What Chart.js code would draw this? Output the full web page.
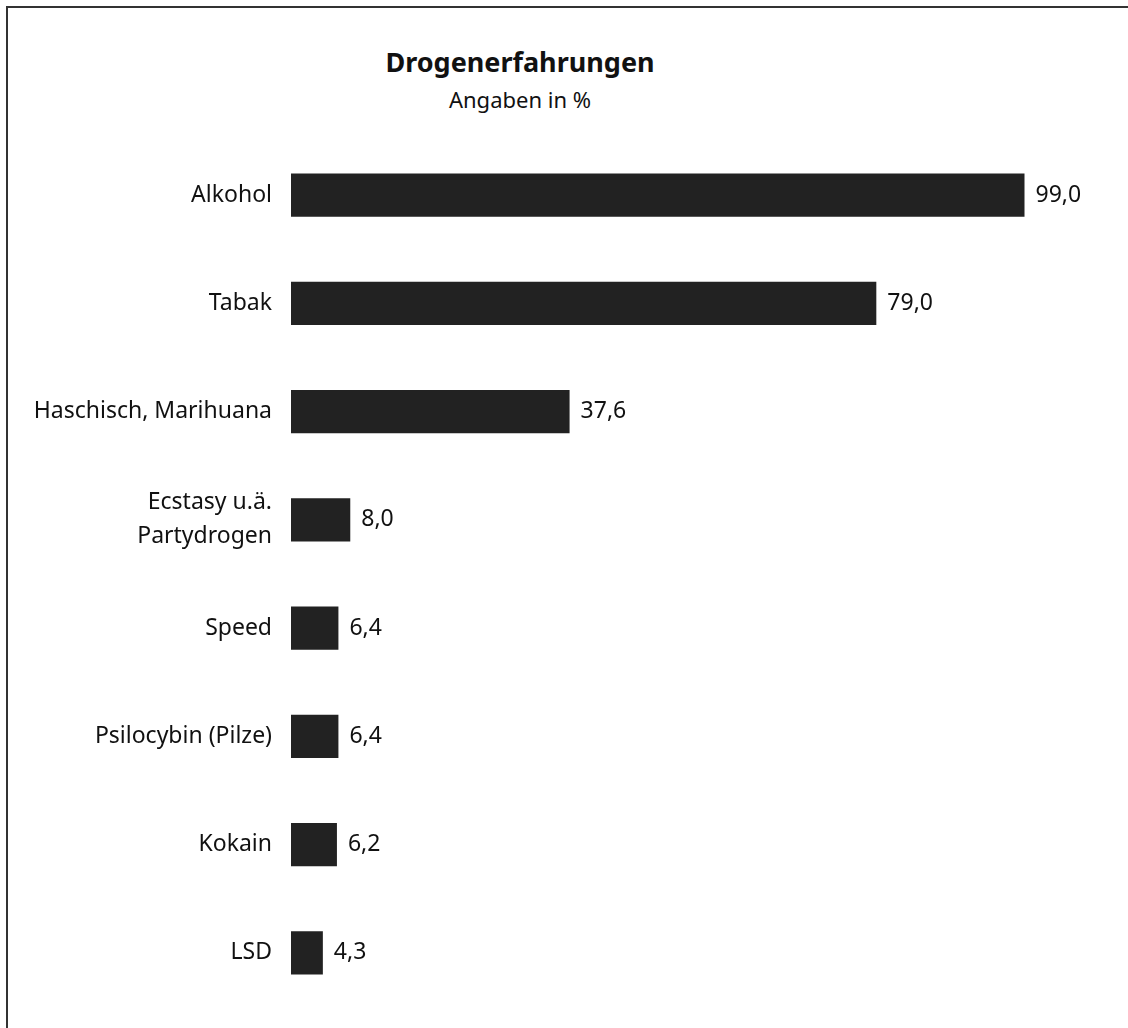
<!DOCTYPE html>
<html>
<head>
<meta charset="utf-8">
<script src="https://cdn.jsdelivr.net/npm/chart.js@4"></script>
<style>
  html, body { margin: 0; padding: 0; background: #fff; overflow: hidden; }
  body { width: 1128px; height: 1028px; position: relative; font-family: 'Noto Sans', sans-serif; }
  .rahmen { position: absolute; left: 6px; top: 6px; width: 1200px; height: 1100px; border: 2px solid #333; box-sizing: border-box; }
  .titel { position: absolute; left: 320px; width: 400px; text-align: center; color: #111; }
  #t1 { top: 43px; font-size: 27px; font-weight: bold; }
  #t2 { top: 84px; font-size: 22px; }
  .diagramm { position: absolute; left: 0; top: 0; width: 1128px; height: 1028px; }
</style>
</head>
<body>
<div class="rahmen"></div>
<div class="titel" id="t1">Drogenerfahrungen</div>
<div class="titel" id="t2">Angaben in %</div>
<div class="diagramm"><canvas id="drogenChart"></canvas></div>
<script>
const kategorien = ['Alkohol', 'Tabak', 'Haschisch, Marihuana', ['Ecstasy u.ä.', 'Partydrogen'], 'Speed', 'Psilocybin (Pilze)', 'Kokain', 'LSD'];
const anteile = [99.0, 79.0, 37.6, 8.0, 6.4, 6.4, 6.2, 4.3];

const schrift = { family: "'Noto Sans', sans-serif", size: 23, lineHeight: 1.48 };

// Werte rechts neben die Balken schreiben
const wertBeschriftung = {
    id: 'wertBeschriftung',
    afterDatasetsDraw(chart) {
        const ctx = chart.ctx;
        ctx.save();
        ctx.font = `${schrift.size}px ${schrift.family}`;
        ctx.fillStyle = '#111';
        ctx.textAlign = 'left';
        ctx.textBaseline = 'middle';
        chart.getDatasetMeta(0).data.forEach((balken, i) => {
            const text = anteile[i].toFixed(1).replace('.', ',');
            ctx.fillText(text, balken.x + 11, balken.y);
        });
        ctx.restore();
    }
};

new Chart(document.getElementById('drogenChart'), {
    type: 'bar',
    data: {
        labels: kategorien,
        datasets: [{
            data: anteile,
            backgroundColor: '#222222',
            barPercentage: 0.4,
            categoryPercentage: 1
        }]
    },
    options: {
        indexAxis: 'y',
        responsive: true,
        maintainAspectRatio: false,
        animation: false,
        layout: { padding: { left: 0, right: 22, top: 141, bottom: 21 } },
        plugins: {
            legend: { display: false },
            tooltip: { enabled: false }
        },
        scales: {
            x: {
                display: false,
                min: 0,
                max: 110
            },
            y: {
                afterFit(achse) {
                    achse.width = 291;
                    achse.paddingTop = 0;
                    achse.paddingBottom = 0;
                },
                grid: { display: false, drawTicks: false },
                border: { display: false },
                ticks: {
                    color: '#111',
                    font: schrift,
                    padding: 19
                }
            }
        }
    },
    plugins: [wertBeschriftung]
});
</script>
</body>
</html>
